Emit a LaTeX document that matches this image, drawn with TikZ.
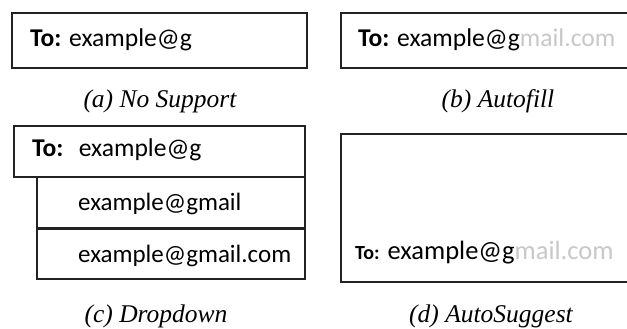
\documentclass[tikz,border=0pt]{standalone}
\usepackage{fontspec}
\setmainfont{Liberation Serif}
\newfontfamily\uifont{Carlito}
\definecolor{hintgray}{HTML}{C8C8C8}
\definecolor{boxline}{HTML}{222222}
\begin{document}
\begin{tikzpicture}[x=1pt,y=-1pt,
  boxstyle/.style={draw=boxline,line width=1.6pt},
  uitext/.style={inner sep=0pt,anchor=base west,font=\uifont\fontsize{25.6}{25.6}\selectfont},
  listtext/.style={uitext,font=\uifont\fontsize{25}{25}\selectfont},
  captext/.style={inner sep=0pt,anchor=base,font=\itshape\fontsize{25.5}{25.5}\selectfont}]
\useasboundingbox (0,0) rectangle (627,329);
% (a)
\draw[boxstyle] (12,13) rectangle (307,68);
\node[uitext] (ta) at (30,47) {\textbf{To:} example@g};
\node[captext] (ca) at (160,107) {(a) No Support};
% (b)
\draw[boxstyle] (630,13) -- (341,13) -- (341,68) -- (630,68);
\node[uitext] (tb) at (358,47) {\textbf{To:} example@g\textcolor{hintgray}{mail.com}};
\node[captext] (cb) at (498,107) {(b) Autofill};
% (c)
\draw[boxstyle] (14,126) rectangle (305,177);
\draw[boxstyle] (37,177) rectangle (305,228);
\draw[boxstyle] (37,229) rectangle (305,279);
\node[uitext] (tc1) at (32,157) {\textbf{To:}\hspace{0.6em}example@g};
\node[listtext] (tc2) at (78,210) {example@gmail};
\node[listtext] (tc3) at (78,262) {example@gmail.com};
\node[captext] (cc) at (156,322) {(c) Dropdown};
% (d)
\draw[boxstyle] (630,134) -- (341,134) -- (341,282) -- (630,282);
\node[uitext,font=\uifont\fontsize{26.5}{26.5}\selectfont] (td) at (355,259) {{\fontsize{20}{20}\selectfont\textbf{To:}} example@g\textcolor{hintgray}{mail.com}};
\node[captext] (cd) at (491,322) {(d) AutoSuggest};
\end{tikzpicture}
\end{document}
